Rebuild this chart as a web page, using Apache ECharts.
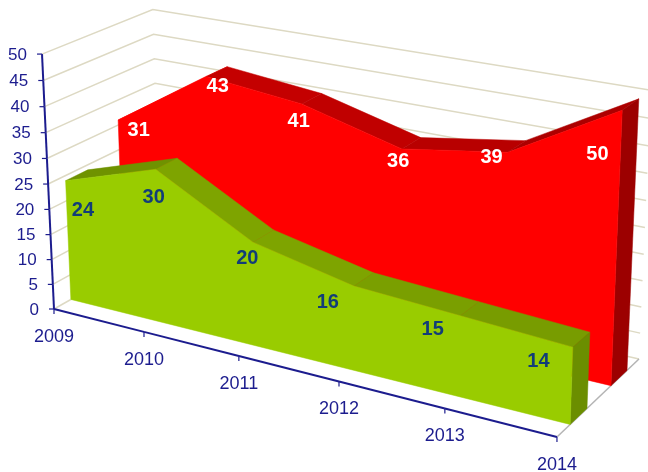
<!DOCTYPE html>
<html>
<head>
<meta charset="utf-8">
<script src="https://cdn.jsdelivr.net/npm/echarts@6/dist/echarts.min.js"></script>
<style>
html, body { margin: 0; padding: 0; background: #fff; }
#main { width: 648px; height: 472px; }
</style>
</head>
<body>
<div id="main"></div>
<script>
var years = ['2009', '2010', '2011', '2012', '2013', '2014'];
var redValues = [31, 43, 41, 36, 39, 50];
var greenValues = [24, 30, 20, 16, 15, 14];
var yTicks = [0, 5, 10, 15, 20, 25, 30, 35, 40, 45, 50];

// colours of the top strip between two years
var redTops = ['#ff0000', '#c40000', '#c00000', '#b80000', '#ac0000'];
var greenTops = ['#6f9200', '#7ea400', '#7ea400', '#7a9f00', '#789c00'];

// pixel nudges of the value labels, the original ones sit by hand
var redNudge = [[10, 15], [1, 15], [-13, 23], [-13, 18], [-25, 11], [-33, 50]];
var greenNudge = [[6, 35], [-13, 34], [-16, 23], [-36, 23], [-37, 21], [-43, 22]];

var AXIS_COLOR = '#1c1c8e';
var WALL_COLOR = '#ddd9c3';
var FONT = '"Liberation Sans", Arial, sans-serif';

// camera of the 3d box: u along years, v along values, d into the picture
function project(u, v, d) {
    var w = 1 - 0.1283 * u - 0.0385 * v + 0.072 * d;
    return [
        (54 + 431.5 * u - 13.6 * v + 117.5 * d) / w,
        (309 + 71.9 * u - 257 * v - 42.1 * d) / w
    ];
}

// goes through the hidden axes (they fill the canvas), then through the camera
function point(api, index, value, d) {
    var c = api.coord([index, value]);
    return project(c[0] / api.getWidth(), 1 - c[1] / api.getHeight(), d);
}

function poly(points, color) {
    return {
        type: 'polygon',
        shape: { points: points },
        style: { fill: color, stroke: color, lineWidth: 0.5 }
    };
}

function areaSeries(values, tops, front, back, faceColor, sideColor, z) {
    return {
        type: 'custom',
        z: z,
        silent: true,
        clip: false,
        data: values.map(function (v, i) { return [i, v]; }),
        renderItem: function (params, api) {
            var i = params.dataIndex;
            var last = values.length - 1;
            var kids = [];
            if (i < last) {
                kids.push(poly([
                    point(api, i, values[i], front),
                    point(api, i + 1, values[i + 1], front),
                    point(api, i + 1, values[i + 1], back),
                    point(api, i, values[i], back)
                ], tops[i]));
            } else {
                // side and front come last so they lie over the strips
                kids.push(poly([
                    point(api, last, 0, front),
                    point(api, last, 0, back),
                    point(api, last, values[last], back),
                    point(api, last, values[last], front)
                ], sideColor));
                var face = [point(api, 0, 0, front)];
                values.forEach(function (v, k) { face.push(point(api, k, v, front)); });
                face.push(point(api, last, 0, front));
                kids.push(poly(face, faceColor));
            }
            return { type: 'group', children: kids };
        }
    };
}

function labelSeries(values, nudges, mid, color, z) {
    return {
        type: 'custom',
        z: z,
        silent: true,
        clip: false,
        data: values.map(function (v, i) { return [i, v]; }),
        renderItem: function (params, api) {
            var i = params.dataIndex;
            var p = point(api, i, values[i], mid);
            return {
                type: 'text',
                style: {
                    x: p[0] + nudges[i][0],
                    y: p[1] + nudges[i][1],
                    text: String(values[i]),
                    fill: color,
                    font: 'bold 20px ' + FONT,
                    align: 'center',
                    verticalAlign: 'middle'
                }
            };
        }
    };
}

var wallSeries = {
    type: 'custom',
    z: 1,
    silent: true,
    clip: false,
    data: yTicks.map(function (t) { return [0, t]; }),
    renderItem: function (params, api) {
        var t = yTicks[params.dataIndex];
        var a = point(api, 0, t, 0);
        var b = point(api, 0, t, 1);
        var c = point(api, years.length - 1, t, 1);
        return {
            type: 'polyline',
            shape: { points: [a, b, c] },
            style: { fill: null, stroke: WALL_COLOR, lineWidth: 1.5 }
        };
    }
};

var floorEdgeSeries = {
    type: 'custom',
    z: 2,
    silent: true,
    clip: false,
    data: [[years.length - 1, 0]],
    renderItem: function (params, api) {
        var i = years.length - 1;
        var a = point(api, i, 0, 0);
        var b = point(api, i, 0, 1);
        return {
            type: 'line',
            shape: { x1: a[0], y1: a[1], x2: b[0], y2: b[1] },
            style: { stroke: '#b4b4b4', lineWidth: 1.5 }
        };
    }
};

var yAxisSeries = {
    type: 'custom',
    z: 20,
    silent: true,
    clip: false,
    data: yTicks.map(function (t) { return [0, t]; }),
    renderItem: function (params, api) {
        var t = yTicks[params.dataIndex];
        var p = point(api, 0, t, 0);
        var kids = [
            { type: 'line', shape: { x1: p[0] - 5, y1: p[1], x2: p[0], y2: p[1] }, style: { stroke: AXIS_COLOR, lineWidth: 1.2 } },
            { type: 'text', style: { x: p[0] - 15, y: p[1] + 1, text: String(t), fill: AXIS_COLOR, font: '17px ' + FONT, align: 'right', verticalAlign: 'middle' } }
        ];
        if (params.dataIndex > 0) {
            var q = point(api, 0, yTicks[params.dataIndex - 1], 0);
            kids.push({ type: 'line', shape: { x1: q[0], y1: q[1], x2: p[0], y2: p[1] }, style: { stroke: AXIS_COLOR, lineWidth: 2 } });
        }
        return { type: 'group', children: kids };
    }
};

var xAxisSeries = {
    type: 'custom',
    z: 20,
    silent: true,
    clip: false,
    data: years.map(function (y, i) { return [i, 0]; }),
    renderItem: function (params, api) {
        var i = params.dataIndex;
        var p = point(api, i, 0, 0);
        var kids = [
            { type: 'line', shape: { x1: p[0], y1: p[1], x2: p[0], y2: p[1] + 5 }, style: { stroke: AXIS_COLOR, lineWidth: 1.2 } },
            { type: 'text', style: { x: p[0], y: p[1] + 28, text: years[i], fill: AXIS_COLOR, font: '18px ' + FONT, align: 'center', verticalAlign: 'middle' } }
        ];
        if (i > 0) {
            var q = point(api, i - 1, 0, 0);
            kids.push({ type: 'line', shape: { x1: q[0], y1: q[1], x2: p[0], y2: p[1] }, style: { stroke: AXIS_COLOR, lineWidth: 2 } });
        }
        return { type: 'group', children: kids };
    }
};

var myChart = echarts.init(document.getElementById('main'), null, { renderer: 'canvas' });
myChart.setOption({
    animation: false,
    backgroundColor: '#ffffff',
    grid: { left: 0, right: 0, top: 0, bottom: 0 },
    xAxis: { type: 'category', data: years, boundaryGap: false, show: false },
    yAxis: { type: 'value', min: 0, max: 50, interval: 5, show: false },
    series: [
        wallSeries,
        floorEdgeSeries,
        areaSeries(redValues, redTops, 0.64, 0.844, '#ff0000', '#9c0000', 5),
        areaSeries(greenValues, greenTops, 0.15, 0.348, '#99cc00', '#6b8e00', 6),
        xAxisSeries,
        yAxisSeries,
        labelSeries(redValues, redNudge, 0.74, '#ffffff', 21),
        labelSeries(greenValues, greenNudge, 0.25, '#123d78', 21)
    ]
});
</script>
</body>
</html>
